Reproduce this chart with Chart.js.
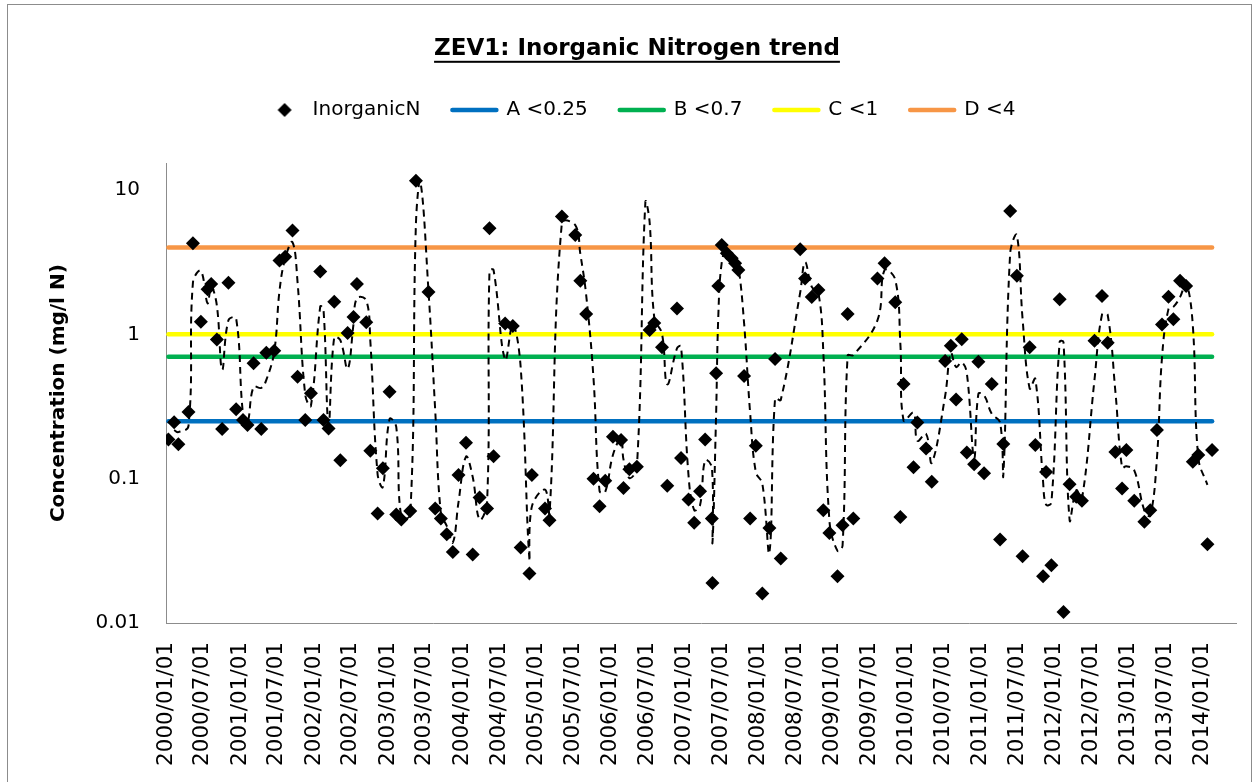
<!DOCTYPE html>
<html>
<head>
<meta charset="utf-8">
<script src="https://cdn.jsdelivr.net/npm/chart.js@4.4.1/dist/chart.umd.min.js"></script>
<style>
html,body{margin:0;padding:0;background:#fff;}
canvas{display:block;}
</style>
</head>
<body>
<canvas id="c" width="1260" height="782"></canvas>
<script>
// ---------- DATA ----------
const chartTitle = 'ZEV1: Inorganic Nitrogen trend';
const yAxisTitle = 'Concentration (mg/l N)';

const sampleDates = [
'2000-01-13','2000-02-10','2000-03-02','2000-04-21','2000-05-13','2000-06-21','2000-07-24','2000-08-11','2000-09-08','2000-10-04',
'2000-11-04','2000-12-12','2001-01-15','2001-02-06','2001-03-08','2001-04-15','2001-05-10','2001-06-18','2001-07-14','2001-08-11',
'2001-09-16','2001-10-11','2001-11-18','2001-12-16','2002-01-31','2002-02-16','2002-03-13','2002-04-10','2002-05-10','2002-06-15',
'2002-07-14','2002-07-31','2002-09-15','2002-10-05','2002-11-10','2002-12-06','2003-01-08','2003-02-10','2003-03-07','2003-04-20',
'2003-05-18','2003-07-19','2003-08-21','2003-09-18','2003-10-17','2003-11-16','2003-12-14','2004-01-20','2004-02-22','2004-03-27',
'2004-05-03','2004-05-15','2004-06-04','2004-07-31','2004-09-07','2004-10-16','2004-11-28','2004-12-10','2005-02-13','2005-03-07',
'2005-05-07','2005-07-12','2005-08-06','2005-09-04','2005-10-10','2005-11-09','2005-12-07','2006-01-14','2006-02-23','2006-03-07',
'2006-04-05','2006-05-12','2006-07-14','2006-08-06','2006-09-13','2006-10-09','2006-11-26','2006-12-16','2007-01-22','2007-02-19',
'2007-03-20','2007-04-14','2007-05-17','2007-05-20','2007-06-07','2007-06-18','2007-07-05','2007-07-30','2007-08-23','2007-09-09',
'2007-09-25','2007-10-23','2007-11-22','2007-12-20','2008-01-21','2008-02-25','2008-03-24','2008-04-21','2008-07-26','2008-08-19',
'2008-09-21','2008-10-24','2008-11-17','2008-12-17','2009-01-26','2009-02-20','2009-03-17','2009-04-14','2009-08-11','2009-09-15',
'2009-11-07','2009-12-02','2009-12-18','2010-02-05','2010-02-24','2010-04-08','2010-05-06','2010-07-11','2010-08-08','2010-09-03',
'2010-10-01','2010-10-26','2010-12-01','2010-12-22','2011-01-19','2011-02-26','2011-04-08','2011-04-24','2011-05-28','2011-06-30',
'2011-07-28','2011-09-01','2011-09-29','2011-11-06','2011-11-21','2011-12-17','2012-01-27','2012-02-15','2012-03-16','2012-04-18',
'2012-05-16','2012-07-17','2012-08-23','2012-09-20','2012-10-28','2012-11-30','2012-12-21','2013-01-29','2013-03-20','2013-04-18',
'2013-05-21','2013-06-15','2013-07-17','2013-08-10','2013-09-12','2013-10-12','2013-11-14','2013-12-11','2014-01-25','2014-02-17'
];

const inorganicN = [
0.187,0.246,0.173,0.29,4.28,1.22,2.05,2.23,0.92,0.221,
2.28,0.302,0.255,0.235,0.629,0.221,0.745,0.77,3.24,3.45,
5.23,0.508,0.255,0.39,2.72,0.255,0.223,1.68,0.134,1.02,
1.32,2.23,1.21,0.156,0.0574,0.118,0.40,0.0565,0.0521,0.0598,
11.6,1.96,0.0621,0.053,0.0412,0.031,0.106,0.177,0.0298,0.074,
0.0621,5.43,0.143,1.19,1.14,0.0333,0.022,0.106,0.0621,0.0515,
6.54,4.88,2.35,1.38,0.100,0.0645,0.0966,0.195,0.185,0.0863,
0.116,0.121,1.07,1.20,0.813,0.0894,1.51,0.139,0.0717,0.0494,
0.0819,0.187,0.053,0.0189,0.537,2.16,4.16,3.65,3.37,3.11,
2.79,0.514,0.053,0.169,0.016,0.0456,0.674,0.028,3.88,2.44,
1.81,2.03,0.0605,0.0421,0.0211,0.0476,1.38,0.053,2.44,3.11,
1.67,0.0543,0.452,0.120,0.245,0.162,0.095,0.653,0.834,0.354,
0.923,0.152,0.126,0.646,0.109,0.452,0.0379,0.174,7.16,2.54,
0.029,0.813,0.171,0.0211,0.111,0.0251,1.75,0.0119,0.0916,0.0748,
0.0702,0.903,1.84,0.875,0.153,0.0855,0.158,0.0702,0.0502,0.0605,
0.217,1.17,1.82,1.27,2.35,2.16,0.131,0.146,0.0351,0.158
];

// dashed trend line (read as its own series)
const trendDates = [
'2000-02-10','2000-03-02','2000-04-21','2000-05-13','2000-06-21','2000-07-24','2000-08-11','2000-09-08','2000-10-04','2000-11-04',
'2000-12-12','2001-01-15','2001-02-06','2001-03-08','2001-04-15','2001-05-10','2001-06-18','2001-07-14','2001-08-11','2001-09-16',
'2001-10-11','2001-11-18','2001-12-16','2002-01-31','2002-02-16','2002-03-13','2002-04-10','2002-05-10','2002-06-15','2002-07-14',
'2002-07-31','2002-09-15','2002-10-05','2002-11-10','2002-12-06','2003-01-08','2003-02-10','2003-03-07','2003-04-20','2003-05-18',
'2003-06-09','2003-07-19','2003-08-21','2003-09-18','2003-10-17','2003-11-16','2003-12-14','2004-01-20','2004-02-22','2004-03-27',
'2004-05-03','2004-05-15','2004-06-04','2004-07-31','2004-09-07','2004-10-16','2004-11-28','2004-12-10','2005-02-13','2005-03-07',
'2005-05-07','2005-07-12','2005-08-06','2005-09-04','2005-10-10','2005-11-09','2005-12-07','2006-01-14','2006-02-23','2006-03-07',
'2006-04-05','2006-05-12','2006-06-23','2006-07-14','2006-08-06','2006-09-13','2006-10-09','2006-11-26','2006-12-16','2007-01-22',
'2007-02-19','2007-03-20','2007-04-14','2007-05-17','2007-05-20','2007-06-07','2007-06-18','2007-07-05','2007-07-30','2007-08-23',
'2007-09-09','2007-09-25','2007-10-23','2007-11-22','2007-12-20','2008-01-21','2008-02-25','2008-03-24','2008-04-21','2008-07-26',
'2008-08-19','2008-09-21','2008-10-24','2008-11-17','2008-12-17','2009-01-26','2009-02-20','2009-03-17','2009-04-14','2009-08-11',
'2009-09-15','2009-11-07','2009-12-02','2009-12-18','2010-02-05','2010-02-24','2010-04-08','2010-05-06','2010-07-11','2010-08-08',
'2010-09-03','2010-10-01','2010-10-26','2010-12-01','2010-12-22','2011-01-19','2011-02-26','2011-04-08','2011-04-24','2011-05-28',
'2011-06-30','2011-07-28','2011-09-01','2011-09-29','2011-11-06','2011-11-21','2011-12-17','2012-01-27','2012-02-15','2012-03-16',
'2012-04-18','2012-05-16','2012-07-17','2012-08-23','2012-09-20','2012-10-28','2012-11-30','2012-12-21','2013-01-29','2013-03-20',
'2013-04-18','2013-05-21','2013-06-15','2013-07-17','2013-08-10','2013-09-12','2013-10-12','2013-11-14','2013-12-11','2014-01-25'
];
const trendValues = [
0.217,0.21,0.232,2.29,2.75,1.64,2.14,1.58,0.57,1.25,
1.29,0.279,0.245,0.432,0.425,0.483,0.758,2.0,3.35,4.34,
2.3,0.38,0.32,1.56,1.49,0.239,0.95,0.91,0.577,1.17,
1.78,1.72,0.9,0.107,0.0877,0.259,0.228,0.0543,0.056,5.8,
11.4,2.0,0.3,0.0576,0.0471,0.0361,0.0685,0.142,0.103,0.052,
0.068,2.75,2.79,0.667,1.17,0.587,0.0277,0.064,0.084,0.0568,
5.9,5.71,3.62,1.87,0.5,0.082,0.081,0.146,0.19,0.136,
0.101,0.119,8.2,6.0,1.3,1.01,0.451,0.80,0.825,0.105,
0.0606,0.0657,0.134,0.12,0.036,0.278,1.35,3.16,3.91,3.51,
3.24,2.95,1.2,0.284,0.111,0.0925,0.0308,0.36,0.351,1.95,
3.16,2.13,1.92,0.75,0.0513,0.0316,0.0344,0.714,0.717,1.25,
2.78,2.39,0.862,0.253,0.286,0.183,0.204,0.129,0.374,0.744,
0.594,0.639,0.538,0.139,0.386,0.378,0.281,0.245,0.106,3.67,
4.85,1.28,0.421,0.492,0.096,0.066,0.068,0.888,0.881,0.0518,
0.0832,0.0725,0.487,1.37,1.36,0.4,0.119,0.122,0.114,0.0602,
0.0554,0.139,0.694,1.50,1.55,1.81,2.26,1.15,0.139,0.0906
];

const thresholdNames  = ['A <0.25','B <0.7','C <1','D <4'];
const thresholdValues = [0.25, 0.7, 1, 4];

const xTickLabels = [
'2000/01/01','2000/07/01','2001/01/01','2001/07/01','2002/01/01','2002/07/01','2003/01/01','2003/07/01',
'2004/01/01','2004/07/01','2005/01/01','2005/07/01','2006/01/01','2006/07/01','2007/01/01','2007/07/01',
'2008/01/01','2008/07/01','2009/01/01','2009/07/01','2010/01/01','2010/07/01','2011/01/01','2011/07/01',
'2012/01/01','2012/07/01','2013/01/01','2013/07/01','2014/01/01'
];
const yTickValues = [0.01, 0.1, 1, 10];
const xAxisStart = '2000-01-01';
const xAxisEnd   = '2014-06-15';
const yAxisMin = 0.01, yAxisMax = 15.3;

// ---------- helpers ----------
const DAY0 = Date.UTC(2000, 0, 1);
function toDay(s) {
  const p = s.split(/[-\/]/).map(Number);
  return (Date.UTC(p[0], p[1] - 1, p[2]) - DAY0) / 86400000;
}

const FONT = '"DejaVu Sans", "Liberation Sans", sans-serif';
const thresholdColors = ['#0070C0', '#00B050', '#FFFF00', '#F79646'];

const pointsData = sampleDates.map((d, i) => ({x: toDay(d), y: inorganicN[i]}));
const trendData = trendDates.map((d, i) => ({x: toDay(d), y: trendValues[i]}));
const firstDay = toDay(sampleDates[0]);
const lastDay = toDay(sampleDates[sampleDates.length - 1]);

// legend symbol for the marker series (diamond placed toward the text side)
function legendDiamond() {
  const c = document.createElement('canvas');
  c.width = 44; c.height = 16;
  const g = c.getContext('2d');
  g.fillStyle = '#000';
  g.beginPath();
  g.moveTo(26, 1); g.lineTo(33, 8); g.lineTo(26, 15); g.lineTo(19, 8);
  g.closePath(); g.fill();
  return c;
}
const diamondIcon = legendDiamond();

const datasets = [{
  label: 'InorganicN',
  data: pointsData,
  showLine: false,
  pointStyle: 'rectRot',
  pointRadius: 7,
  pointHoverRadius: 7,
  pointBackgroundColor: '#000',
  pointBorderColor: '#000',
  pointBorderWidth: 0,
  order: 0
}];
thresholdNames.forEach((name, i) => {
  datasets.push({
    label: name,
    data: [{x: firstDay, y: thresholdValues[i]}, {x: lastDay, y: thresholdValues[i]}],
    borderColor: thresholdColors[i],
    backgroundColor: thresholdColors[i],
    borderWidth: 4.5,
    borderCapStyle: 'round',
    pointRadius: 0,
    pointHoverRadius: 0,
    fill: false,
    order: 2
  });
});
datasets.push({
  label: 'trend',
  data: trendData,
  borderColor: '#000',
  borderWidth: 2,
  borderDash: [7, 5],
  tension: 0.4,
  pointRadius: 0,
  pointHoverRadius: 0,
  fill: false,
  order: 1,
  hideInLegend: true
});

const decor = {
  id: 'decor',
  beforeDraw(chart) {
    const ctx = chart.ctx;
    ctx.save();
    ctx.fillStyle = '#fff';
    ctx.fillRect(0, 0, chart.width, chart.height);
    ctx.strokeStyle = '#8c8c8c';
    ctx.lineWidth = 1;
    ctx.strokeRect(7.5, 4.5, 1244, 800);
    ctx.restore();
  },
  afterDraw(chart) {
    const tb = chart.titleBlock;
    if (!tb) return;
    const ctx = chart.ctx;
    ctx.save();
    ctx.font = 'bold 23px ' + FONT;
    const w = ctx.measureText(chartTitle).width;
    const cx = (tb.left + tb.right) / 2;
    const y = tb.top + 29.5 + 13.8 + 11.5;
    ctx.fillStyle = '#000';
    ctx.fillRect(cx - w / 2, y, w, 2);
    ctx.restore();
  }
};

new Chart(document.getElementById('c'), {
  type: 'line',
  data: {datasets},
  plugins: [decor],
  options: {
    responsive: false,
    animation: false,
    devicePixelRatio: 1,
    layout: {padding: {left: 38, right: 24, top: 6, bottom: 0}},
    plugins: {
      tooltip: {enabled: false},
      title: {
        display: true,
        text: chartTitle,
        color: '#000',
        font: {family: FONT, size: 23, weight: 'bold', lineHeight: 1.2},
        padding: {top: 29.5, bottom: 4.9}
      },
      subtitle: {
        display: true,
        text: '',
        weight: 500,
        font: {size: 10, lineHeight: 1},
        padding: {top: 23.3, bottom: 0}
      },
      legend: {
        display: true,
        position: 'top',
        labels: {
          usePointStyle: true,
          pointStyleWidth: 44,
          boxHeight: 7,
          padding: 32,
          color: '#000',
          font: {family: FONT, size: 20},
          generateLabels(chart) {
            return chart.data.datasets.map((ds, i) => ({
              text: ds.label,
              datasetIndex: i,
              hidden: false,
              fontColor: '#000',
              pointStyle: i === 0 ? diamondIcon : 'line',
              fillStyle: ds.borderColor || '#000',
              strokeStyle: ds.borderColor || '#000',
              lineWidth: i === 0 ? 0 : 4.5,
              lineCap: 'round'
            })).filter(it => !chart.data.datasets[it.datasetIndex].hideInLegend);
          }
        }
      }
    },
    scales: {
      x: {
        type: 'linear',
        min: toDay(xAxisStart),
        max: toDay(xAxisEnd),
        grid: {display: false, drawTicks: false},
        border: {display: true, color: '#8c8c8c', width: 1},
        afterBuildTicks(scale) {
          scale.ticks = xTickLabels.map(l => ({value: toDay(l)}));
        },
        afterFit(scale) { scale.height = 159; },
        ticks: {
          autoSkip: false,
          minRotation: 90,
          maxRotation: 90,
          padding: 19,
          color: '#000',
          font: {family: FONT, size: 21.5},
          callback: (v, i) => xTickLabels[i]
        }
      },
      y: {
        type: 'logarithmic',
        min: yAxisMin,
        max: yAxisMax,
        grid: {display: false, drawTicks: false},
        border: {display: true, color: '#8c8c8c', width: 1},
        afterBuildTicks(scale) {
          scale.ticks = yTickValues.map(v => ({value: v}));
        },
        afterFit(scale) { scale.width = 128; },
        ticks: {
          padding: 26,
          color: '#000',
          font: {family: FONT, size: 20},
          callback: v => String(v)
        },
        title: {
          display: true,
          text: yAxisTitle,
          color: '#000',
          font: {family: FONT, size: 20, weight: 'bold', lineHeight: 1.2},
          padding: {top: 8.7, bottom: 0}
        }
      }
    }
  }
});
</script>
</body>
</html>
